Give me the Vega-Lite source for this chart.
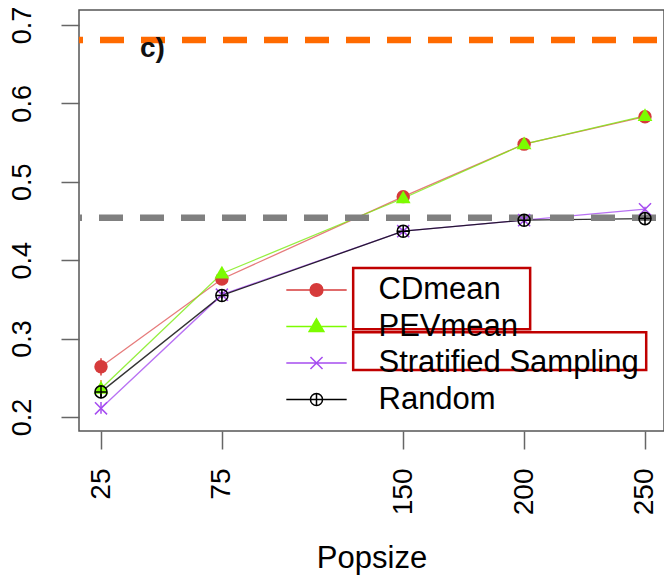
{
  "$schema": "https://vega.github.io/schema/vega-lite/v6.json",
  "width": 585,
  "height": 421,
  "autosize": {"type": "none"},
  "padding": {"left": 79, "top": 10, "right": 0, "bottom": 145},
  "background": "white",
  "config": {
    "view": {"stroke": "#555555", "strokeWidth": 1.5},
    "font": "Liberation Sans",
    "axis": {"grid": false, "domain": false, "tickColor": "#666666", "tickWidth": 1.5, "tickSize": 18, "labelColor": "#000000", "labelFont": "Liberation Sans", "labelOverlap": false, "labelBound": false, "labelFlush": false, "titleFont": "Liberation Sans", "titleColor": "#000000"},
    "axisX": {"labelAngle": 270, "labelAlign": "right", "labelBaseline": "middle", "labelPadding": 19, "labelFontSize": 28, "titleFontSize": 31, "titleFontWeight": "normal", "titleY": 136, "titleBaseline": "alphabetic"},
    "axisY": {"labelAngle": 270, "labelAlign": "center", "labelBaseline": "alphabetic", "labelPadding": 31, "labelFontSize": 27}
  },
  "datasets": {
    "acc": [
      {"series": "CDmean", "popsize": 25, "acc": 0.264, "lo": 0.253, "hi": 0.275},
      {"series": "CDmean", "popsize": 75, "acc": 0.376, "lo": 0.371, "hi": 0.381},
      {"series": "CDmean", "popsize": 150, "acc": 0.481, "lo": 0.476, "hi": 0.486},
      {"series": "CDmean", "popsize": 200, "acc": 0.548, "lo": 0.544, "hi": 0.552},
      {"series": "CDmean", "popsize": 250, "acc": 0.583, "lo": 0.580, "hi": 0.586},
      {"series": "PEVmean", "popsize": 25, "acc": 0.236, "lo": 0.227, "hi": 0.247},
      {"series": "PEVmean", "popsize": 75, "acc": 0.383, "lo": 0.378, "hi": 0.388},
      {"series": "PEVmean", "popsize": 150, "acc": 0.479, "lo": 0.474, "hi": 0.484},
      {"series": "PEVmean", "popsize": 200, "acc": 0.548, "lo": 0.544, "hi": 0.552},
      {"series": "PEVmean", "popsize": 250, "acc": 0.584, "lo": 0.581, "hi": 0.587},
      {"series": "Stratified Sampling", "popsize": 25, "acc": 0.211, "lo": 0.204, "hi": 0.219},
      {"series": "Stratified Sampling", "popsize": 75, "acc": 0.356, "lo": 0.352, "hi": 0.360},
      {"series": "Stratified Sampling", "popsize": 150, "acc": 0.437, "lo": 0.434, "hi": 0.440},
      {"series": "Stratified Sampling", "popsize": 200, "acc": 0.451, "lo": 0.448, "hi": 0.454},
      {"series": "Stratified Sampling", "popsize": 250, "acc": 0.465, "lo": 0.462, "hi": 0.468},
      {"series": "Random", "popsize": 25, "acc": 0.232, "lo": 0.224, "hi": 0.240},
      {"series": "Random", "popsize": 75, "acc": 0.355, "lo": 0.351, "hi": 0.359},
      {"series": "Random", "popsize": 150, "acc": 0.437, "lo": 0.434, "hi": 0.440},
      {"series": "Random", "popsize": 200, "acc": 0.451, "lo": 0.448, "hi": 0.454},
      {"series": "Random", "popsize": 250, "acc": 0.453, "lo": 0.450, "hi": 0.456}
    ],
    "boxes": [
      {"x1": 129.3, "x2": 202.5, "y1": 0.390, "y2": 0.312},
      {"x1": 129.3, "x2": 250.5, "y1": 0.308, "y2": 0.260}
    ],
    "one": [{}]
  },
  "resolve": {"scale": {"color": "independent", "shape": "independent", "fill": "independent", "stroke": "independent"}},
  "layer": [
    {
      "data": {"name": "acc"},
      "mark": {"type": "line", "strokeWidth": 1.3, "opacity": 0.8},
      "encoding": {
        "x": {"field": "popsize", "type": "quantitative", "scale": {"domain": [15.9, 257.86], "nice": false, "zero": false}, "axis": {"values": [25, 75, 150, 200, 250], "title": "Popsize"}},
        "y": {"field": "acc", "type": "quantitative", "scale": {"domain": [0.1821, 0.7191], "nice": false, "zero": false}, "axis": {"values": [0.2, 0.3, 0.4, 0.5, 0.6, 0.7], "format": ".1f", "title": null}},
        "color": {"field": "series", "type": "nominal", "scale": {"domain": ["CDmean", "PEVmean", "Stratified Sampling", "Random"], "range": ["#E05A5A", "#7CEB10", "#A64DF0", "#000000"]}, "legend": null}
      }
    },
    {
      "data": {"name": "one"},
      "mark": {"type": "rule", "strokeWidth": 6.5, "color": "#FF6A00", "strokeDash": [24, 17], "strokeDashOffset": 34},
      "encoding": {
        "y": {"datum": 0.6809, "type": "quantitative", "scale": {"domain": [0.1821, 0.7191], "nice": false, "zero": false}, "axis": {"values": [0.2, 0.3, 0.4, 0.5, 0.6, 0.7], "format": ".1f", "title": null}}
      }
    },
    {
      "data": {"name": "one"},
      "mark": {"type": "rule", "strokeWidth": 6.5, "color": "#808080", "strokeDash": [24, 17], "strokeDashOffset": 33},
      "encoding": {
        "y": {"datum": 0.454, "type": "quantitative", "scale": {"domain": [0.1821, 0.7191], "nice": false, "zero": false}, "axis": {"values": [0.2, 0.3, 0.4, 0.5, 0.6, 0.7], "format": ".1f", "title": null}}
      }
    },
    {
      "data": {"name": "acc"},
      "mark": {"type": "rule", "strokeWidth": 1.5},
      "encoding": {
        "x": {"field": "popsize", "type": "quantitative", "scale": {"domain": [15.9, 257.86], "nice": false, "zero": false}, "axis": {"values": [25, 75, 150, 200, 250], "title": "Popsize"}},
        "y": {"field": "lo", "type": "quantitative", "scale": {"domain": [0.1821, 0.7191], "nice": false, "zero": false}, "axis": {"values": [0.2, 0.3, 0.4, 0.5, 0.6, 0.7], "format": ".1f", "title": null}},
        "y2": {"field": "hi"},
        "color": {"field": "series", "type": "nominal", "scale": {"domain": ["CDmean", "PEVmean", "Stratified Sampling", "Random"], "range": ["#D63B3B", "#E0A020", "#A64DF0", "#000000"]}, "legend": null}
      }
    },
    {
      "data": {"name": "acc"},
      "transform": [{"filter": "datum.series === 'CDmean' || datum.series === 'PEVmean'"}],
      "mark": {"type": "point", "filled": true, "opacity": 1, "size": 180},
      "encoding": {
        "x": {"field": "popsize", "type": "quantitative", "scale": {"domain": [15.9, 257.86], "nice": false, "zero": false}, "axis": {"values": [25, 75, 150, 200, 250], "title": "Popsize"}},
        "y": {"field": "acc", "type": "quantitative", "scale": {"domain": [0.1821, 0.7191], "nice": false, "zero": false}, "axis": {"values": [0.2, 0.3, 0.4, 0.5, 0.6, 0.7], "format": ".1f", "title": null}},
        "color": {"field": "series", "type": "nominal", "scale": {"domain": ["CDmean", "PEVmean", "Stratified Sampling", "Random"], "range": ["#D63B3B", "#7CFC00", "#A64DF0", "#000000"]}, "legend": null},
        "shape": {"field": "series", "type": "nominal", "scale": {"domain": ["CDmean", "PEVmean"], "range": ["circle", "M0,-1.15L1.1,0.75L-1.1,0.75Z"]}, "legend": null}
      }
    },
    {
      "data": {"name": "acc"},
      "transform": [{"filter": "datum.series === 'Stratified Sampling' || datum.series === 'Random'"}],
      "mark": {"type": "point", "filled": false, "opacity": 1, "size": 180, "strokeWidth": 1.5},
      "encoding": {
        "x": {"field": "popsize", "type": "quantitative", "scale": {"domain": [15.9, 257.86], "nice": false, "zero": false}, "axis": {"values": [25, 75, 150, 200, 250], "title": "Popsize"}},
        "y": {"field": "acc", "type": "quantitative", "scale": {"domain": [0.1821, 0.7191], "nice": false, "zero": false}, "axis": {"values": [0.2, 0.3, 0.4, 0.5, 0.6, 0.7], "format": ".1f", "title": null}},
        "color": {"field": "series", "type": "nominal", "scale": {"domain": ["CDmean", "PEVmean", "Stratified Sampling", "Random"], "range": ["#D63B3B", "#7CFC00", "#A64DF0", "#000000"]}, "legend": null},
        "shape": {"field": "series", "type": "nominal", "scale": {"domain": ["Stratified Sampling", "Random"], "range": ["M-0.9,-0.9L0.9,0.9M-0.9,0.9L0.9,-0.9", "M-0.9,0A0.9,0.9,0,1,1,0.9,0A0.9,0.9,0,1,1,-0.9,0ZM0,-0.9L0,0.9M-0.9,0L0.9,0"]}, "legend": null}
      }
    },
    {
      "data": {"name": "one"},
      "mark": {"type": "text", "text": "c)", "fontSize": 28, "fontWeight": "bold", "font": "Liberation Sans", "align": "left", "baseline": "alphabetic", "color": "#111111"},
      "encoding": {
        "x": {"datum": 41.1, "type": "quantitative", "scale": {"domain": [15.9, 257.86], "nice": false, "zero": false}, "axis": {"values": [25, 75, 150, 200, 250], "title": "Popsize"}},
        "y": {"datum": 0.659, "type": "quantitative", "scale": {"domain": [0.1821, 0.7191], "nice": false, "zero": false}, "axis": {"values": [0.2, 0.3, 0.4, 0.5, 0.6, 0.7], "format": ".1f", "title": null}}
      }
    },
    {
      "data": {"name": "boxes"},
      "mark": {"type": "rect", "fill": null, "fillOpacity": 0, "stroke": "#C00000", "strokeWidth": 2.5},
      "encoding": {
        "x": {"field": "x1", "type": "quantitative", "scale": {"domain": [15.9, 257.86], "nice": false, "zero": false}, "axis": {"values": [25, 75, 150, 200, 250], "title": "Popsize"}},
        "x2": {"field": "x2"},
        "y": {"field": "y1", "type": "quantitative", "scale": {"domain": [0.1821, 0.7191], "nice": false, "zero": false}, "axis": {"values": [0.2, 0.3, 0.4, 0.5, 0.6, 0.7], "format": ".1f", "title": null}},
        "y2": {"field": "y2"}
      }
    },
    {
      "data": {"name": "acc"},
      "mark": {"type": "point", "filled": false, "opacity": 0, "strokeWidth": 1.5},
      "encoding": {
        "x": {"field": "popsize", "type": "quantitative", "scale": {"domain": [15.9, 257.86], "nice": false, "zero": false}, "axis": {"values": [25, 75, 150, 200, 250], "title": "Popsize"}},
        "y": {"field": "acc", "type": "quantitative", "scale": {"domain": [0.1821, 0.7191], "nice": false, "zero": false}, "axis": {"values": [0.2, 0.3, 0.4, 0.5, 0.6, 0.7], "format": ".1f", "title": null}},
        "stroke": {"field": "series", "type": "nominal", "scale": {"domain": ["CDmean", "PEVmean", "Stratified Sampling", "Random"], "range": ["#D63B3B", "#7CFC00", "#A64DF0", "#000000"]},
          "legend": {"orient": "none", "legendX": 222, "legendY": 264.5, "title": null, "padding": 0, "rowPadding": 4.5, "labelFontSize": 31, "labelFont": "Liberation Sans", "labelColor": "#000000", "labelOffset": 46.5, "symbolSize": 180, "symbolStrokeWidth": 1.5, "symbolOpacity": 1, "labelLimit": 400,
            "encode": {"symbols": {"update": {"opacity": {"value": 1}}}}}},
        "fill": {"field": "series", "type": "nominal", "scale": {"domain": ["CDmean", "PEVmean", "Stratified Sampling", "Random"], "range": ["#D63B3B", "#7CFC00", "transparent", "transparent"]},
          "legend": {"orient": "none", "legendX": 222, "legendY": 264.5, "title": null, "padding": 0, "rowPadding": 4.5, "labelFontSize": 31, "labelFont": "Liberation Sans", "labelColor": "#000000", "labelOffset": 46.5, "symbolSize": 180, "symbolStrokeWidth": 1.5, "symbolOpacity": 1, "labelLimit": 400,
            "encode": {"symbols": {"update": {"opacity": {"value": 1}}}}}},
        "shape": {"field": "series", "type": "nominal", "scale": {"domain": ["CDmean", "PEVmean", "Stratified Sampling", "Random"], "range": ["M-4.5,0L4.5,0M-0.95,0A0.95,0.95,0,1,1,0.95,0A0.95,0.95,0,1,1,-0.95,0Z", "M-4.5,0L4.5,0M0,-1.15L1.1,0.75L-1.1,0.75Z", "M-4.5,0L4.5,0M-0.9,-0.9L0.9,0.9M-0.9,0.9L0.9,-0.9", "M-4.5,0L4.5,0M-0.9,0A0.9,0.9,0,1,1,0.9,0A0.9,0.9,0,1,1,-0.9,0ZM0,-0.9L0,0.9"]},
          "legend": {"orient": "none", "legendX": 222, "legendY": 264.5, "title": null, "padding": 0, "rowPadding": 4.5, "labelFontSize": 31, "labelFont": "Liberation Sans", "labelColor": "#000000", "labelOffset": 46.5, "symbolSize": 180, "symbolStrokeWidth": 1.5, "symbolOpacity": 1, "labelLimit": 400,
            "encode": {"symbols": {"update": {"opacity": {"value": 1}}}}}}
      }
    }
  ]
}
